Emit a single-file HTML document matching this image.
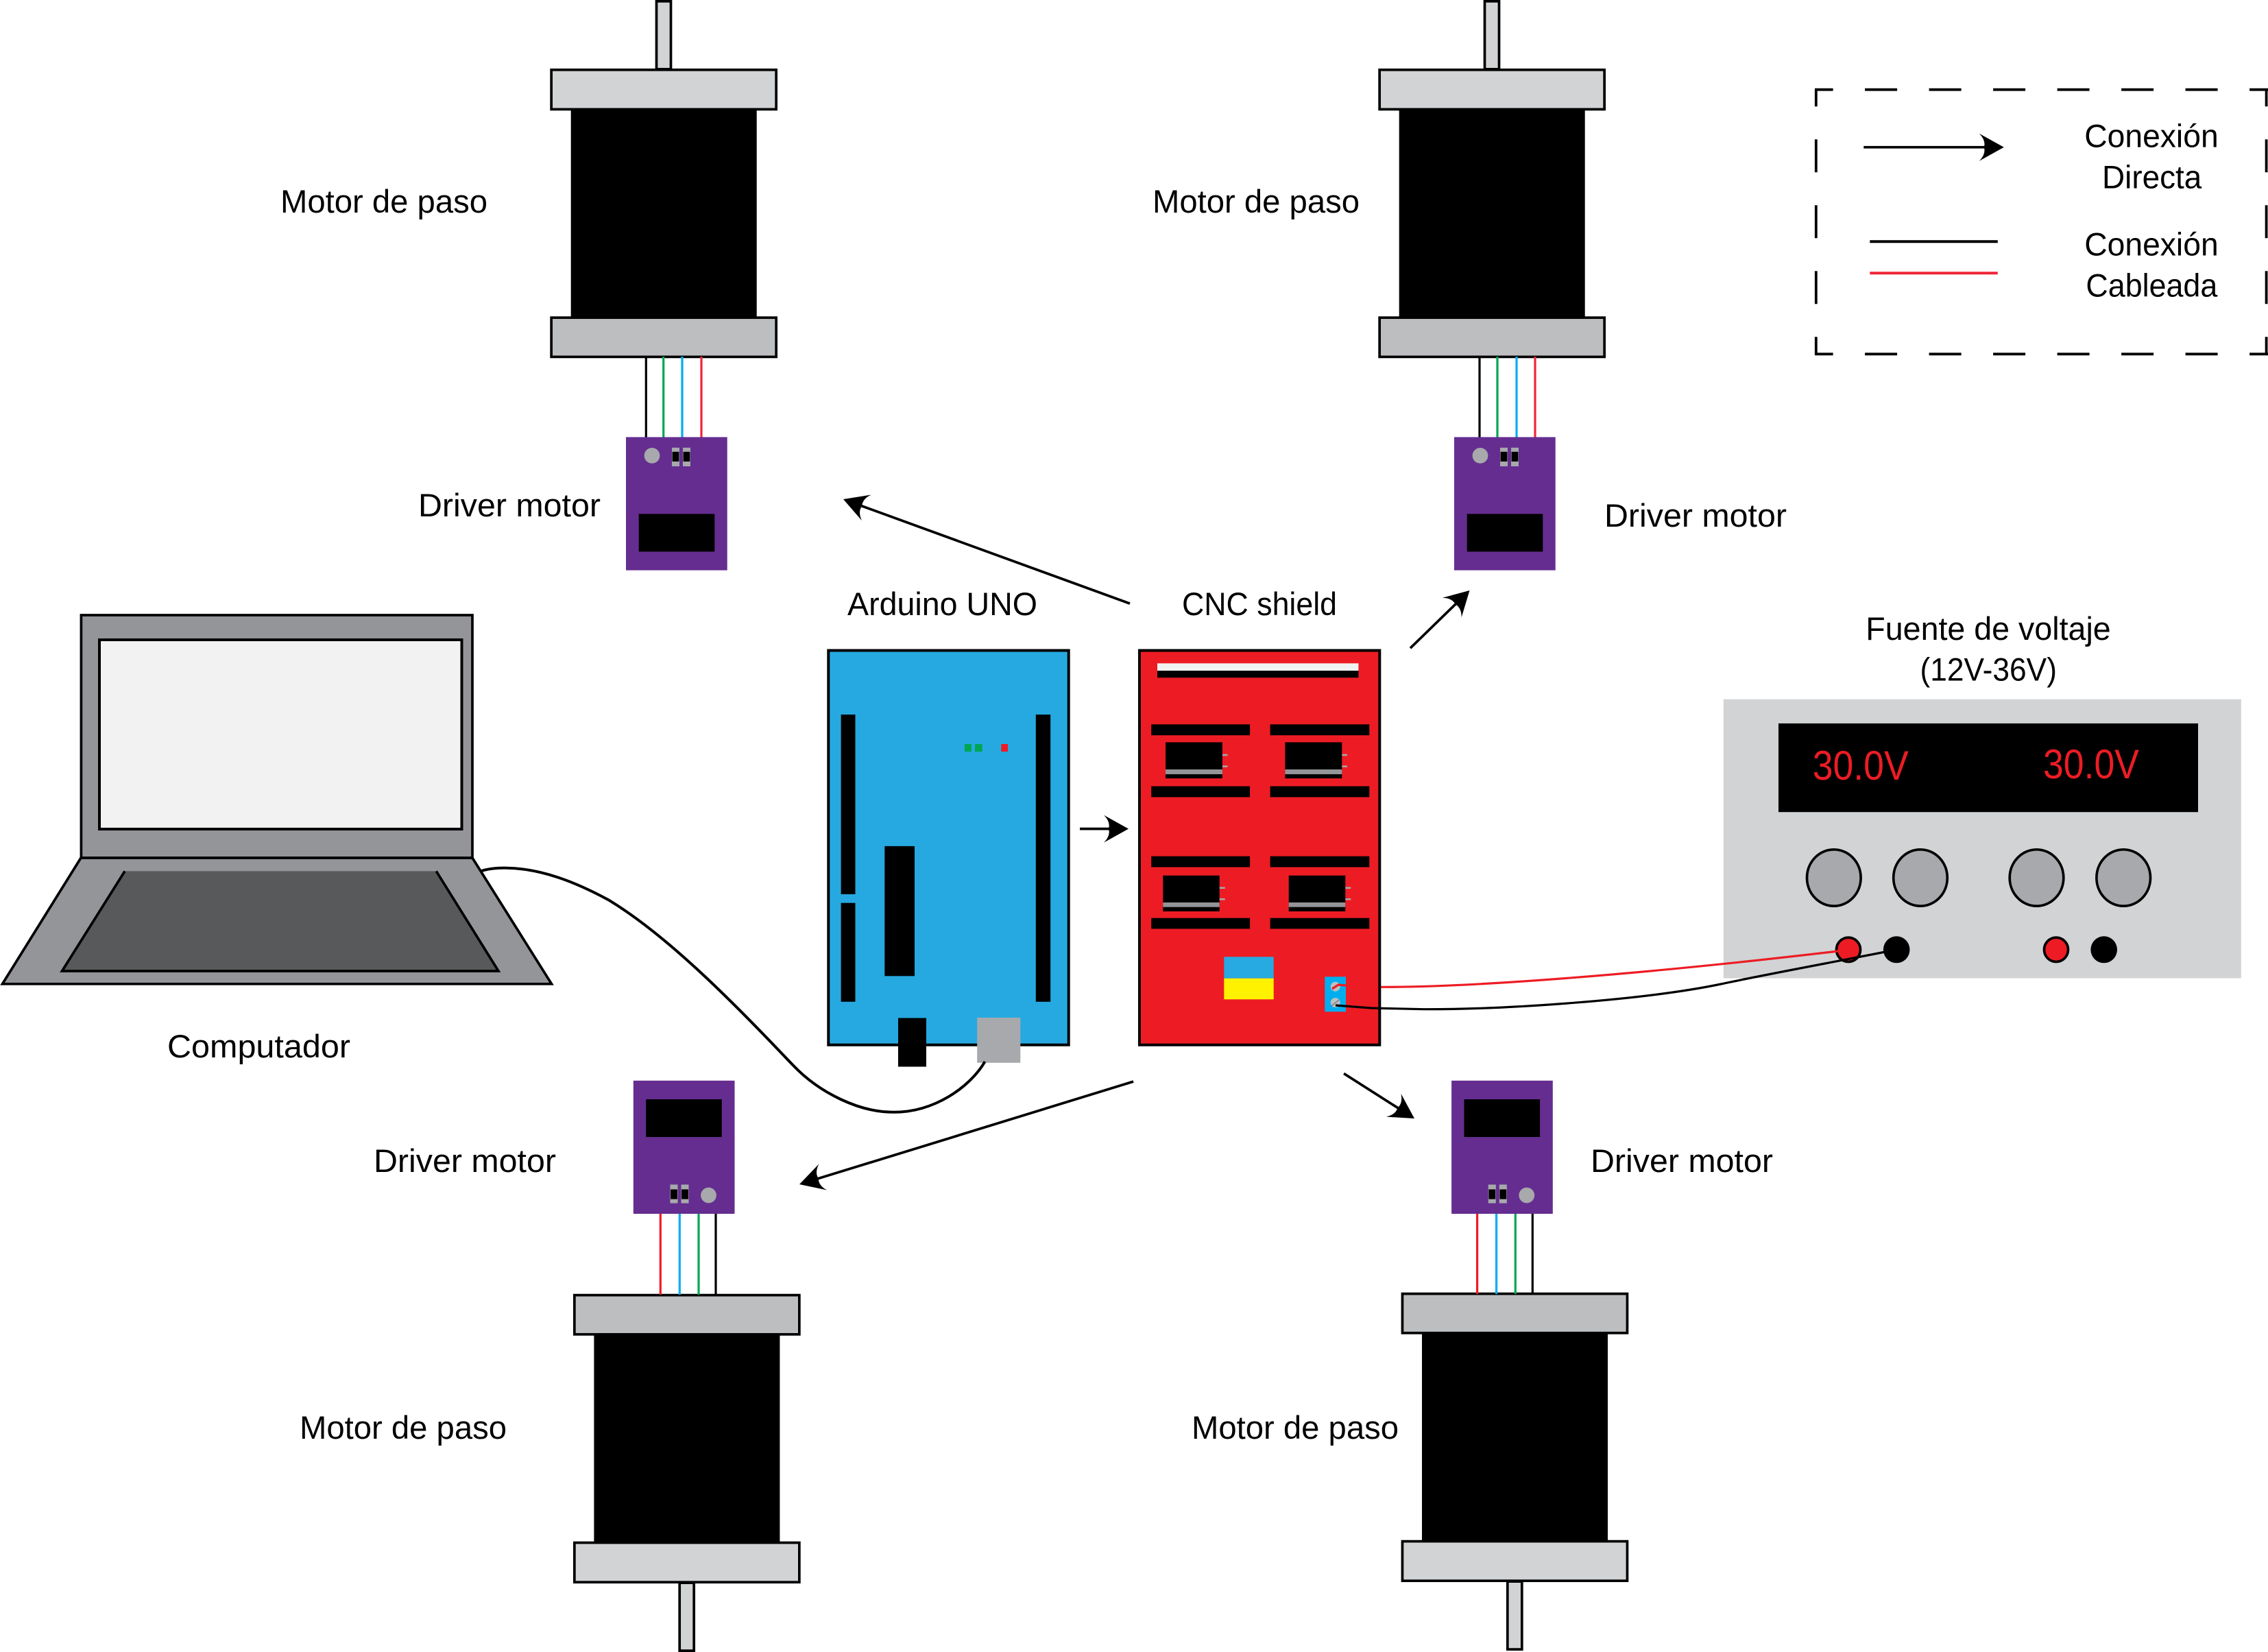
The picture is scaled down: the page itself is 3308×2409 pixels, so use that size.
<!DOCTYPE html>
<html lang="es">
<head>
<meta charset="utf-8">
<title>Diagrama de conexión CNC</title>
<style>
html,body{margin:0;padding:0;background:#fff}
svg{display:block}
text{font-family:"Liberation Sans",sans-serif;fill:#000;font-size:47px}
</style>
</head>
<body>
<svg xmlns="http://www.w3.org/2000/svg" width="3308" height="2409" viewBox="0 0 3308 2409">
<rect width="3308" height="2409" fill="#fff"/>

<!-- Motor top-left -->
<g transform="translate(802.3,0)">
<rect x="155.2" y="1.85" width="21" height="99" fill="#d1d3d4" stroke="#000" stroke-width="3.7"/>
<rect x="1.85" y="101.8" width="328" height="57.6" fill="#d1d3d4" stroke="#000" stroke-width="3.7"/>
<rect x="30.4" y="161" width="271" height="300.5" fill="#000"/>
<rect x="1.85" y="463.2" width="328" height="57.2" fill="#bcbec0" stroke="#000" stroke-width="3.7"/>
</g>
<!-- Motor top-right -->
<g transform="translate(2010.3,0)">
<rect x="155.2" y="1.85" width="21" height="99" fill="#d1d3d4" stroke="#000" stroke-width="3.7"/>
<rect x="1.85" y="101.8" width="328" height="57.6" fill="#d1d3d4" stroke="#000" stroke-width="3.7"/>
<rect x="30.4" y="161" width="271" height="300.5" fill="#000"/>
<rect x="1.85" y="463.2" width="328" height="57.2" fill="#bcbec0" stroke="#000" stroke-width="3.7"/>
</g>
<!-- Motor bottom-left -->
<g transform="translate(836,2409) scale(1,-1)">
<rect x="155.2" y="1.85" width="21" height="99" fill="#d1d3d4" stroke="#000" stroke-width="3.7"/>
<rect x="1.85" y="101.8" width="328" height="57.6" fill="#d1d3d4" stroke="#000" stroke-width="3.7"/>
<rect x="30.4" y="161" width="271" height="300.5" fill="#000"/>
<rect x="1.85" y="463.2" width="328" height="57.2" fill="#bcbec0" stroke="#000" stroke-width="3.7"/>
</g>
<!-- Motor bottom-right -->
<g transform="translate(2043.6,2407) scale(1,-1)">
<rect x="155.2" y="1.85" width="21" height="99" fill="#d1d3d4" stroke="#000" stroke-width="3.7"/>
<rect x="1.85" y="101.8" width="328" height="57.6" fill="#d1d3d4" stroke="#000" stroke-width="3.7"/>
<rect x="30.4" y="161" width="271" height="300.5" fill="#000"/>
<rect x="1.85" y="463.2" width="328" height="57.2" fill="#bcbec0" stroke="#000" stroke-width="3.7"/>
</g>

<!-- Driver wires -->
<g fill="none" stroke-width="3.2">
<path d="M942.3 520V638" stroke="#000"/>
<path d="M967.7 520V638" stroke="#00a651"/>
<path d="M995 520V638" stroke="#00aeef"/>
<path d="M1023 520V638" stroke="#ef2637"/>
</g>
<g fill="none" stroke-width="3.2">
<path d="M2158 520V638" stroke="#000"/>
<path d="M2184 520V638" stroke="#00a651"/>
<path d="M2212 520V638" stroke="#00aeef"/>
<path d="M2239 520V638" stroke="#ef2637"/>
</g>
<g fill="none" stroke-width="3.2">
<path d="M963.3 1769V1888" stroke="#ed1c24"/>
<path d="M991.3 1769V1888" stroke="#00aeef"/>
<path d="M1019 1769V1888" stroke="#00a651"/>
<path d="M1044 1769V1888" stroke="#000"/>
</g>
<g fill="none" stroke-width="3.2">
<path d="M2154.6 1769V1887" stroke="#ed1c24"/>
<path d="M2182.6 1769V1887" stroke="#00aeef"/>
<path d="M2210.3 1769V1887" stroke="#00a651"/>
<path d="M2235.3 1769V1887" stroke="#000"/>
</g>

<!-- Drivers -->
<g transform="translate(913,637.4)">
<rect width="147.7" height="194.2" fill="#652d90"/>
<circle cx="38" cy="27" r="11.4" fill="#a7a9ac"/>
<rect x="67" y="15.4" width="11" height="27.2" fill="#a7a9ac"/>
<rect x="67.6" y="21.4" width="9.8" height="14.2" fill="#000"/>
<rect x="83" y="15.4" width="11" height="27.2" fill="#a7a9ac"/>
<rect x="83.6" y="21.4" width="9.8" height="14.2" fill="#000"/>
<rect x="18.7" y="112" width="110.6" height="55" fill="#000"/>
</g>
<g transform="translate(2121,637.4)">
<rect width="147.7" height="194.2" fill="#652d90"/>
<circle cx="38" cy="27" r="11.4" fill="#a7a9ac"/>
<rect x="67" y="15.4" width="11" height="27.2" fill="#a7a9ac"/>
<rect x="67.6" y="21.4" width="9.8" height="14.2" fill="#000"/>
<rect x="83" y="15.4" width="11" height="27.2" fill="#a7a9ac"/>
<rect x="83.6" y="21.4" width="9.8" height="14.2" fill="#000"/>
<rect x="18.7" y="112" width="110.6" height="55" fill="#000"/>
</g>
<g transform="translate(1071.5,1770) rotate(180)">
<rect width="147.7" height="194.2" fill="#652d90"/>
<circle cx="38" cy="27" r="11.4" fill="#a7a9ac"/>
<rect x="67" y="15.4" width="11" height="27.2" fill="#a7a9ac"/>
<rect x="67.6" y="21.4" width="9.8" height="14.2" fill="#000"/>
<rect x="83" y="15.4" width="11" height="27.2" fill="#a7a9ac"/>
<rect x="83.6" y="21.4" width="9.8" height="14.2" fill="#000"/>
<rect x="18.7" y="112" width="110.6" height="55" fill="#000"/>
</g>
<g transform="translate(2264.8,1770) rotate(180)">
<rect width="147.7" height="194.2" fill="#652d90"/>
<circle cx="38" cy="27" r="11.4" fill="#a7a9ac"/>
<rect x="67" y="15.4" width="11" height="27.2" fill="#a7a9ac"/>
<rect x="67.6" y="21.4" width="9.8" height="14.2" fill="#000"/>
<rect x="83" y="15.4" width="11" height="27.2" fill="#a7a9ac"/>
<rect x="83.6" y="21.4" width="9.8" height="14.2" fill="#000"/>
<rect x="18.7" y="112" width="110.6" height="55" fill="#000"/>
</g>

<!-- Laptop -->
<g>
<rect x="118.4" y="897" width="570.6" height="354" fill="#939598" stroke="#000" stroke-width="3.7"/>
<rect x="145" y="933" width="528.5" height="276" fill="#f2f2f2" stroke="#000" stroke-width="4"/>
<path d="M118 1251H689L804.5 1434.8H3.5Z" fill="#939598" stroke="#000" stroke-width="3.7"/>
<path d="M182 1270.4H636.3L727 1416H90.5Z" fill="#58595b"/>
<path d="M182 1270.4L90.5 1416H727L636.3 1270.4" fill="none" stroke="#000" stroke-width="3.7"/>
</g>

<!-- Arduino -->
<g>
<rect x="1208.3" y="948.5" width="350.4" height="575.2" fill="#26a9e0" stroke="#000" stroke-width="4"/>
<rect x="1226.6" y="1042" width="20.9" height="262" fill="#000"/>
<rect x="1226.6" y="1316.7" width="20.9" height="144.1" fill="#000"/>
<rect x="1510.8" y="1042" width="21.4" height="418.8" fill="#000"/>
<rect x="1290.3" y="1233.9" width="43.7" height="189.4" fill="#000"/>
<rect x="1407" y="1085" width="10" height="11" fill="#00a651"/>
<rect x="1422" y="1085" width="10.6" height="11" fill="#00a651"/>
<rect x="1460.3" y="1085" width="9.7" height="11" fill="#ed1c24"/>
<rect x="1310" y="1484.5" width="41" height="71" fill="#000"/>
<rect x="1425.2" y="1484" width="63.1" height="65.8" fill="#a7a9ac"/>
</g>

<!-- CNC shield -->
<g>
<rect x="1662" y="948.5" width="350.3" height="575.2" fill="#ed1c24"/>
<rect x="1688" y="967.3" width="293.4" height="10.7" fill="#f1f2f2"/>
<rect x="1688" y="978" width="293.4" height="10.2" fill="#000"/>

<rect x="1679.2" y="1056.3" width="143.9" height="15.9" fill="#000"/>
<rect x="1852.6" y="1056.3" width="144.7" height="15.9" fill="#000"/>
<rect x="1679.2" y="1146.5" width="143.9" height="15.9" fill="#000"/>
<rect x="1852.6" y="1146.5" width="144.7" height="15.9" fill="#000"/>
<rect x="1679.2" y="1248.6" width="143.9" height="15.9" fill="#000"/>
<rect x="1852.6" y="1248.6" width="144.7" height="15.9" fill="#000"/>
<rect x="1679.2" y="1338.7" width="143.9" height="15.7" fill="#000"/>
<rect x="1852.6" y="1338.7" width="144.7" height="15.7" fill="#000"/>

<g>
<rect x="1700" y="1082.4" width="82.9" height="52.7" fill="#000"/>
<rect x="1700" y="1122" width="82.9" height="7" fill="#939598"/>
<rect x="1782.9" y="1099.7" width="7.6" height="2.5" fill="#a7a9ac"/>
<rect x="1782.9" y="1116.3" width="7.6" height="2.5" fill="#a7a9ac"/>
</g>
<g>
<rect x="1874.4" y="1082.4" width="82.9" height="52.7" fill="#000"/>
<rect x="1874.4" y="1122" width="82.9" height="7" fill="#939598"/>
<rect x="1957.3" y="1099.7" width="7.6" height="2.5" fill="#a7a9ac"/>
<rect x="1957.3" y="1116.3" width="7.6" height="2.5" fill="#a7a9ac"/>
</g>
<g>
<rect x="1696.3" y="1276.7" width="82.4" height="52.3" fill="#000"/>
<rect x="1696.3" y="1316" width="82.4" height="6.7" fill="#939598"/>
<rect x="1778.7" y="1293.5" width="8" height="2.5" fill="#a7a9ac"/>
<rect x="1778.7" y="1310" width="8" height="2.5" fill="#a7a9ac"/>
</g>
<g>
<rect x="1879.7" y="1276.7" width="82.6" height="52.3" fill="#000"/>
<rect x="1879.7" y="1316" width="82.6" height="6.7" fill="#939598"/>
<rect x="1962.3" y="1293.5" width="8" height="2.5" fill="#a7a9ac"/>
<rect x="1962.3" y="1310" width="8" height="2.5" fill="#a7a9ac"/>
</g>

<rect x="1785.3" y="1395.3" width="72.4" height="31.4" fill="#27aae1"/>
<rect x="1785.3" y="1426.7" width="72.4" height="30.6" fill="#fff200"/>

<rect x="1932.3" y="1424.3" width="30.7" height="51" fill="#00aeef"/>
<circle cx="1947.7" cy="1438.7" r="7" fill="#bcbec0"/>
<circle cx="1947.7" cy="1462" r="7" fill="#bcbec0"/>
<path d="M1942 1467L1953 1458" stroke="#808285" stroke-width="1.5"/>
</g>

<!-- Power supply -->
<g>
<rect x="2513.8" y="1019.7" width="755" height="406.8" fill="#d1d3d4"/>
<rect x="2594" y="1054.9" width="612" height="129.3" fill="#000"/>
<text x="2643.7" y="1137" font-size="60" style="font-size:60px;fill:#ed1c24" textLength="140" lengthAdjust="spacingAndGlyphs">30.0V</text>
<text x="2980" y="1135" font-size="60" style="font-size:60px;fill:#ed1c24" textLength="140" lengthAdjust="spacingAndGlyphs">30.0V</text>
<ellipse cx="2674.8" cy="1280" rx="39.3" ry="41.2" fill="#a7a9ac" stroke="#000" stroke-width="3.7"/>
<ellipse cx="2801" cy="1280" rx="39.3" ry="41.2" fill="#a7a9ac" stroke="#000" stroke-width="3.7"/>
<ellipse cx="2970.5" cy="1280" rx="39.3" ry="41.2" fill="#a7a9ac" stroke="#000" stroke-width="3.7"/>
<ellipse cx="3097.2" cy="1280" rx="39.3" ry="41.2" fill="#a7a9ac" stroke="#000" stroke-width="3.7"/>
<ellipse cx="2696" cy="1384.8" rx="17.5" ry="17.7" fill="#ed1c24" stroke="#000" stroke-width="3.7"/>
<ellipse cx="2766.2" cy="1384.8" rx="19.3" ry="19.5" fill="#000"/>
<ellipse cx="2999" cy="1384.8" rx="17.5" ry="17.7" fill="#ed1c24" stroke="#000" stroke-width="3.7"/>
<ellipse cx="3068.7" cy="1384.8" rx="19.3" ry="19.5" fill="#000"/>
</g>

<!-- Power wires -->
<path d="M1943 1442L1952 1436L1963 1437L2011 1439.3C2150 1440 2400 1420 2678.6 1387.3L2692 1385.5" fill="none" stroke="#ed1c24" stroke-width="3.2"/>
<rect x="1662" y="948.5" width="350.3" height="575.2" fill="none" stroke="#000" stroke-width="4"/>
<path d="M1948 1466L2000 1470L2076.5 1471.7C2200 1472 2400 1458 2510 1435C2570 1422 2690 1400 2760 1386" fill="none" stroke="#000" stroke-width="3.2"/>

<!-- USB cable -->
<path d="M702.3 1270C715 1266 727 1265.5 739 1265.7C790 1266.5 840 1286.7 886.5 1311.7C976.5 1365.7 1076.6 1469.3 1156.6 1553.3C1196.6 1595.3 1255 1621.7 1301.5 1621.7C1362 1623 1415 1585 1436.6 1548" fill="none" stroke="#000" stroke-width="4"/>

<!-- Arrows -->
<g transform="translate(1646,1208.6)">
<path d="M-71 0H-28" stroke="#000" stroke-width="3.7"/>
<path d="M0 0L-36 -20Q-26 -10 -29 0Q-26 10 -36 20Z" fill="#000"/>
</g>
<g transform="translate(1230,728) rotate(200)">
<path d="M-444.8 0H-28" stroke="#000" stroke-width="3.7"/>
<path d="M0 0L-36 -20Q-26 -10 -29 0Q-26 10 -36 20Z" fill="#000"/>
</g>
<g transform="translate(2143.5,861) rotate(-44.2)">
<path d="M-120.7 0H-28" stroke="#000" stroke-width="3.7"/>
<path d="M0 0L-36 -20Q-26 -10 -29 0Q-26 10 -36 20Z" fill="#000"/>
</g>
<g transform="translate(1166,1727) rotate(162.9)">
<path d="M-509.6 0H-28" stroke="#000" stroke-width="3.7"/>
<path d="M0 0L-36 -20Q-26 -10 -29 0Q-26 10 -36 20Z" fill="#000"/>
</g>
<g transform="translate(2063,1631) rotate(32.5)">
<path d="M-122 0H-28" stroke="#000" stroke-width="3.7"/>
<path d="M0 0L-36 -20Q-26 -10 -29 0Q-26 10 -36 20Z" fill="#000"/>
</g>

<!-- Legend -->
<g>
<path d="M2647 130.7H3308" fill="none" stroke="#000" stroke-width="3.8" stroke-dasharray="47 46.5" stroke-dashoffset="20.4"/>
<path d="M2647 516.3H3308" fill="none" stroke="#000" stroke-width="3.8" stroke-dasharray="47 46.5" stroke-dashoffset="20.4"/>
<path d="M2648.8 131V517" fill="none" stroke="#000" stroke-width="3.8" stroke-dasharray="24.3 48 48 48 48 48 48 48 48 48"/>
<path d="M3305.6 131V517" fill="none" stroke="#000" stroke-width="3.8" stroke-dasharray="24.3 48 48 48 48 48 48 48 48 48"/>
<g transform="translate(2922.8,214.7)">
<path d="M-204.5 0H-28" stroke="#000" stroke-width="3.7"/>
<path d="M0 0L-36 -20Q-26 -10 -29 0Q-26 10 -36 20Z" fill="#000"/>
</g>
<path d="M2727.3 352.3H2913.8" stroke="#000" stroke-width="4"/>
<path d="M2727.3 398.3H2913.8" stroke="#ef2637" stroke-width="4"/>
<text x="3040.2" y="214.3" textLength="195.5" lengthAdjust="spacingAndGlyphs">Conexión</text>
<text x="3066" y="274.3" textLength="145.3" lengthAdjust="spacingAndGlyphs">Directa</text>
<text x="3040.2" y="372.3" textLength="195.5" lengthAdjust="spacingAndGlyphs">Conexión</text>
<text x="3042.4" y="432.3" textLength="191.9" lengthAdjust="spacingAndGlyphs">Cableada</text>
</g>

<!-- Labels -->
<text x="409" y="310" textLength="302" lengthAdjust="spacingAndGlyphs">Motor de paso</text>
<text x="1681" y="310" textLength="302" lengthAdjust="spacingAndGlyphs">Motor de paso</text>
<text x="610" y="753" textLength="266" lengthAdjust="spacingAndGlyphs">Driver motor</text>
<text x="2340" y="768" textLength="266" lengthAdjust="spacingAndGlyphs">Driver motor</text>
<text x="1236" y="897" textLength="277" lengthAdjust="spacingAndGlyphs">Arduino UNO</text>
<text x="1724" y="897" textLength="226" lengthAdjust="spacingAndGlyphs">CNC shield</text>
<text x="2721.3" y="932.8" textLength="357.4" lengthAdjust="spacingAndGlyphs">Fuente de voltaje</text>
<text x="2800.5" y="992.5" textLength="199.5" lengthAdjust="spacingAndGlyphs">(12V-36V)</text>
<text x="244" y="1542" textLength="267" lengthAdjust="spacingAndGlyphs">Computador</text>
<text x="545" y="1709" textLength="266" lengthAdjust="spacingAndGlyphs">Driver motor</text>
<text x="2320" y="1709" textLength="266" lengthAdjust="spacingAndGlyphs">Driver motor</text>
<text x="437" y="2098" textLength="302" lengthAdjust="spacingAndGlyphs">Motor de paso</text>
<text x="1738" y="2098" textLength="302" lengthAdjust="spacingAndGlyphs">Motor de paso</text>
</svg>
</body>
</html>
